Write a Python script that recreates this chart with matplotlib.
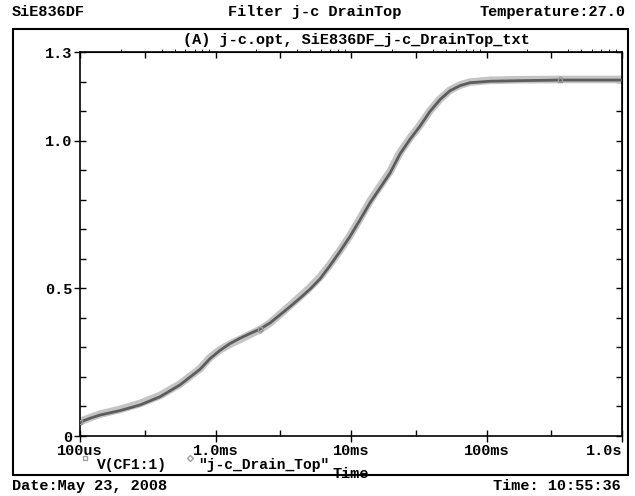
import matplotlib
matplotlib.use('Agg')
import matplotlib.pyplot as plt
from matplotlib.patches import Rectangle
from matplotlib.lines import Line2D
from matplotlib.ticker import FixedLocator, NullFormatter

# time in seconds, voltage in V
t_sim = [1.0e-4, 1.185e-4, 1.405e-4, 1.974e-4, 2.77e-4, 3.90e-4, 5.47e-4, 7.69e-4,
         9.11e-4, 1.08e-3, 1.28e-3, 1.517e-3, 1.80e-3, 2.13e-3, 2.53e-3, 2.99e-3,
         3.55e-3, 4.21e-3, 4.98e-3, 5.91e-3, 7.0e-3, 8.30e-3, 9.84e-3, 1.166e-2,
         1.38e-2, 1.64e-2, 1.94e-2, 2.30e-2, 2.73e-2, 3.23e-2, 3.83e-2, 4.54e-2,
         5.38e-2, 6.37e-2, 7.55e-2, 0.106, 0.177, 0.348, 1.0]
v_sim = [0.047, 0.060, 0.071, 0.086, 0.105, 0.133, 0.173, 0.226,
         0.262, 0.290, 0.313, 0.331, 0.347, 0.362, 0.383, 0.410,
         0.438, 0.467, 0.497, 0.532, 0.577, 0.625, 0.676, 0.732,
         0.789, 0.840, 0.890, 0.955, 1.005, 1.049, 1.099, 1.139,
         1.169, 1.186, 1.196, 1.201, 1.203, 1.205, 1.205]

t_meas = t_sim
v_meas = [0.049, 0.062, 0.074, 0.090, 0.110, 0.137, 0.176, 0.228,
          0.266, 0.292, 0.311, 0.327, 0.344, 0.360, 0.383, 0.412,
          0.442, 0.472, 0.503, 0.538, 0.581, 0.628, 0.679, 0.736,
          0.795, 0.846, 0.895, 0.960, 1.009, 1.052, 1.101, 1.141,
          1.171, 1.188, 1.198, 1.204, 1.206, 1.207, 1.207]

xticks = [1e-4, 1e-3, 1e-2, 1e-1, 1.0]
xticklabels = ['100us', '1.0ms', '10ms', '100ms', '1.0s']
xminor = [3e-4, 3e-3, 3e-2, 3e-1]
yticks = [0, 0.5, 1.0, 1.3]
yticklabels = ['0', '0.5', '1.0', '1.3']
yminor = [0.1, 0.2, 0.3, 0.4, 0.6, 0.7, 0.8, 0.9, 1.1, 1.2]

font = {'family': 'Liberation Mono', 'weight': 'bold', 'size': 11}
small = {'family': 'Liberation Mono', 'weight': 'bold', 'size': 10.5}

fig = plt.figure(figsize=(6.35, 4.96), dpi=100)
ax = fig.add_axes([80/635, 1-436/496, (622-80)/635, (436-52)/496])

ax.plot(t_meas, v_meas, color='#c4c4c4', lw=5.5, solid_capstyle='round', zorder=2,
        marker='D', ms=3, mfc='none', mec='#a8a8a8', markevery=[0, 13, 37])
ax.plot(t_sim, v_sim, color='#5c5c5c', lw=2.0, solid_capstyle='round', zorder=3,
        marker='s', ms=3.5, mfc='none', mec='#999999', markevery=[0, 13, 37])

ax.set_xscale('log')
ax.set_xlim(1e-4, 1.0)
ax.set_ylim(0, 1.3)
ax.xaxis.set_major_locator(FixedLocator(xticks))
ax.xaxis.set_minor_locator(FixedLocator(xminor))
ax.xaxis.set_minor_formatter(NullFormatter())
ax.set_xticklabels(xticklabels, fontdict=font)
ax.set_yticks(yticks)
ax.set_yticklabels(yticklabels, fontdict=font)
ax.yaxis.set_minor_locator(FixedLocator(yminor))
lbls = ax.get_xticklabels()
lbls[-1].set_horizontalalignment('right')

ax.tick_params(which='major', direction='inout', length=9, width=1, pad=1, colors='black')
ax.tick_params(which='minor', direction='in', length=4, width=1)
for sp in ax.spines.values():
    sp.set_linewidth(1.2)

sx = ax.secondary_xaxis('top')
sx.set_xticks(xticks + xminor)
sx.tick_params(direction='in', length=4, width=1, labeltop=False)
sy = ax.secondary_yaxis('right')
sy.set_yticks(yticks + yminor)
sy.tick_params(direction='in', length=4, width=1, labelright=False)

ax.set_xlabel('Time', fontdict=font)
ax.xaxis.set_label_coords(0.5, (436-467)/384)

# outer frame
fig.patches.append(Rectangle((12.7/635, 1-475/496), (628-12.7)/635, (475-29)/496,
                             transform=fig.transFigure, fill=False, lw=1.5,
                             edgecolor='black', zorder=0))

fig.text(12/635, 1-12/496, 'SiE836DF', ha='left', va='center', **font)
fig.text(315/635, 1-12/496, 'Filter j-c DrainTop', ha='center', va='center', **font)
fig.text(626/635, 1-12/496, 'Temperature:27.0', ha='right', va='center', **font)
fig.text(356/635, 1-40/496, '(A) j-c.opt, SiE836DF_j-c_DrainTop_txt', ha='center', va='center', **font)

# legend row
fig.add_artist(Line2D([85/635], [1-458/496], marker='s', ms=3.5, mfc='none',
                      mec='#a0a0a0', lw=0, transform=fig.transFigure))
fig.text(97/635, 1-465/496, 'V(CF1:1)', ha='left', va='center', **small)
fig.add_artist(Line2D([190/635], [1-458/496], marker='D', ms=3, mfc='none',
                      mec='#a0a0a0', lw=0, transform=fig.transFigure))
fig.text(198/635, 1-465/496, '"j-c_Drain_Top"', ha='left', va='center', **small)

fig.text(12/635, 1-486/496, 'Date:May 23, 2008', ha='left', va='center', **font)
fig.text(621/635, 1-486/496, 'Time: 10:55:36', ha='right', va='center', **font)

fig.savefig('out.png', dpi=100)
